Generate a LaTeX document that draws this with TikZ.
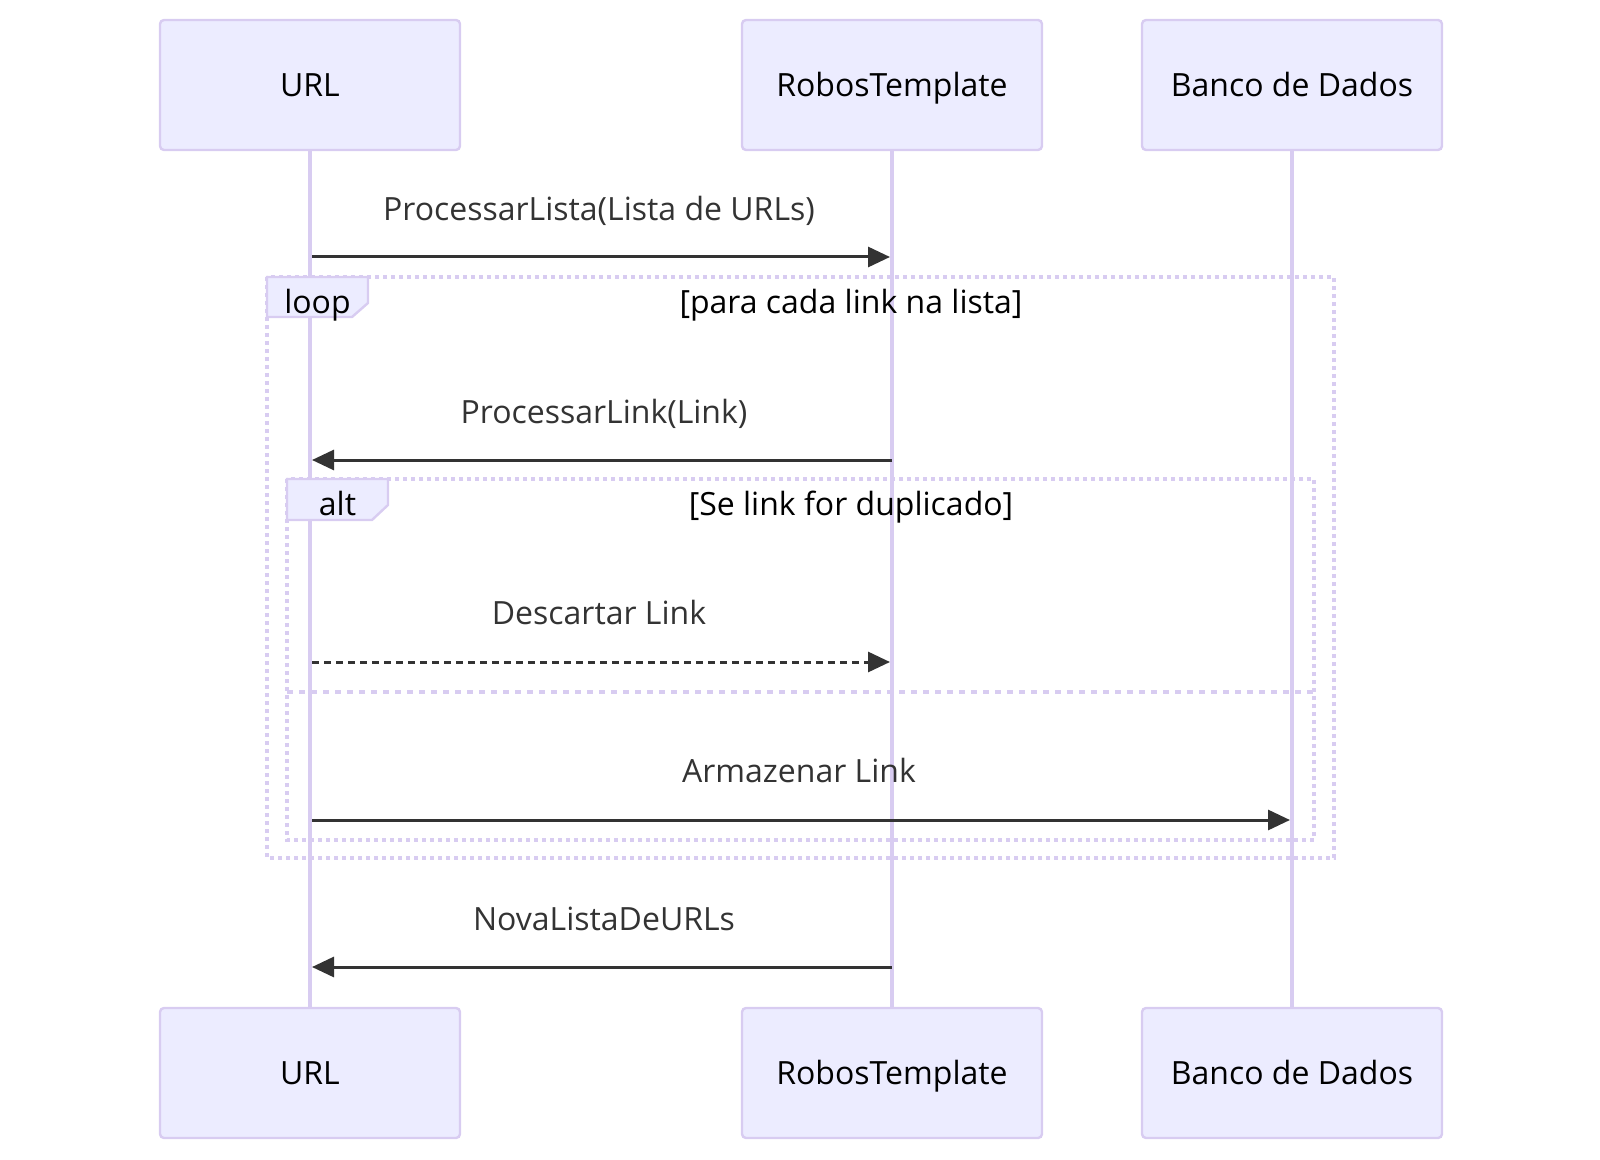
\documentclass[tikz,border=0pt]{standalone}
\usepackage{fontspec}
\setmainfont{Open Sans}
\usetikzlibrary{arrows.meta}
\definecolor{actfill}{HTML}{ECECFF}
\definecolor{actline}{HTML}{D8CCF1}
\definecolor{msgcol}{HTML}{333333}
\tikzset{
  actor/.style={draw=actline, fill=actfill, line width=1.2pt, rounded corners=2pt,
    minimum width=150pt, minimum height=65pt, inner sep=0pt,
    text height=11.5pt, text depth=0pt,
    font=\fontsize{16}{19}\selectfont, text=black},
  lifeline/.style={draw=actline, line width=1.6pt},
  msg/.style={draw=msgcol, line width=1.5pt, -{Triangle[length=11pt,width=10pt]}},
  dmsg/.style={msg, dash pattern=on 3.5pt off 2.5pt},
  msglabel/.style={anchor=base, font=\fontsize{16}{19}\selectfont, text=msgcol, inner sep=0pt},
  frame/.style={draw=actline, line width=1.6pt, dash pattern=on 2pt off 2pt},
  sep/.style={draw=actline, line width=1.6pt, dash pattern=on 3pt off 3pt},
  labelbox/.style={draw=actline, fill=actfill, line width=1.2pt},
  framelabel/.style={anchor=base, font=\fontsize{16}{19}\selectfont, text=black, inner sep=0pt}
}
\begin{document}
\begin{tikzpicture}[x=0.5pt, y=-0.5pt]
\useasboundingbox (0,0) rectangle (1600,1160);
% actors
\node[actor] (urlT) at (310,85) {URL};
\node[actor] (robT) at (892,85) {RobosTemplate};
\node[actor] (bdT) at (1292,85) {Banco de Dados};
\node[actor] (urlB) at (310,1073) {URL};
\node[actor] (robB) at (892,1073) {RobosTemplate};
\node[actor] (bdB) at (1292,1073) {Banco de Dados};
% lifelines
\draw[lifeline] (urlT.south) -- (urlB.north);
\draw[lifeline] (robT.south) -- (robB.north);
\draw[lifeline] (bdT.south) -- (bdB.north);
% frames
\draw[frame] (267,277) rectangle (1334,858);
\draw[frame] (287,479) rectangle (1314,840);
\draw[sep] (287,692) -- (1314,692);
\path[labelbox] (267,277) -- (368,277) -- (368,303) -- (352,317) -- (267,317) -- cycle;
\path[labelbox] (287,479) -- (388,479) -- (388,505) -- (372,520) -- (287,520) -- cycle;
\node[framelabel] (loopl) at (317.5,314) {loop};
\node[framelabel] (loopt) at (851,314) {[para cada link na lista]};
\node[framelabel] (altl) at (337.5,515) {alt};
\node[framelabel] (altt) at (851,515) {[Se link for duplicado]};
% message coordinates
\coordinate (m1a) at (312,257); \coordinate (m1b) at (890,257);
\coordinate (m2a) at (892,460); \coordinate (m2b) at (312,460);
\coordinate (m3a) at (312,662); \coordinate (m3b) at (890,662);
\coordinate (m4a) at (312,820); \coordinate (m4b) at (1290,820);
\coordinate (m5a) at (892,967); \coordinate (m5b) at (312,967);
% messages
\node[msglabel] (l1) at (599,221) {ProcessarLista(Lista de URLs)};
\draw[msg] (m1a) -- (m1b);
\node[msglabel] (l2) at (604,423.5) {ProcessarLink(Link)};
\draw[msg] (m2a) -- (m2b);
\node[msglabel] (l3) at (599,624.5) {Descartar Link};
\draw[dmsg] (m3a) -- (m3b);
\node[msglabel] (l4) at (799,782.5) {Armazenar Link};
\draw[msg] (m4a) -- (m4b);
\node[msglabel] (l5) at (604,930.5) {NovaListaDeURLs};
\draw[msg] (m5a) -- (m5b);
\end{tikzpicture}
\end{document}
